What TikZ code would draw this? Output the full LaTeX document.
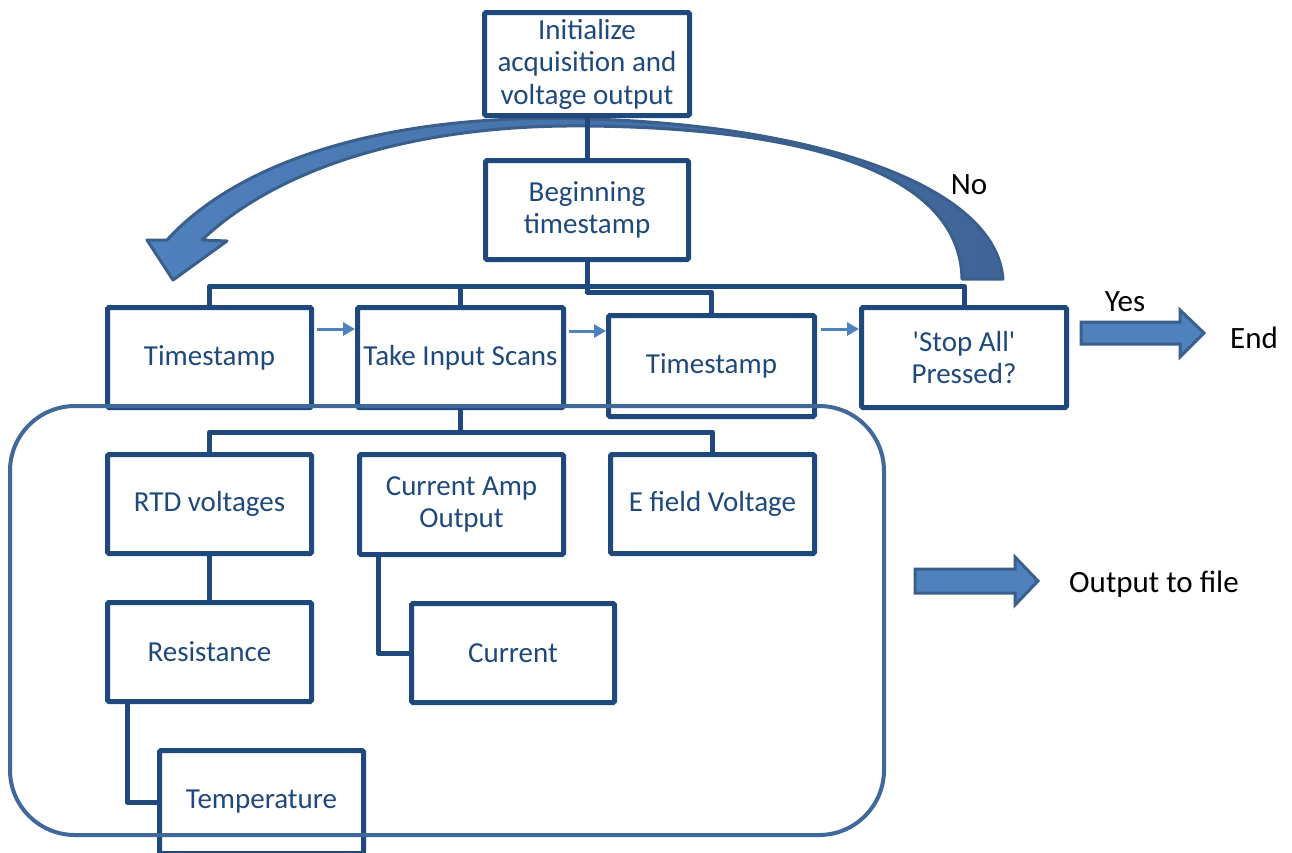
\documentclass[tikz,border=0pt]{standalone}
\usepackage{fontspec}
\setmainfont{Carlito}
\usetikzlibrary{arrows.meta,calc}
\definecolor{navy}{HTML}{1F497D}
\definecolor{accent}{HTML}{4F81BD}
\definecolor{accentdark}{HTML}{3A5F8D}
\definecolor{framec}{HTML}{41689A}
\definecolor{arrowright}{HTML}{3F6497}
\begin{document}
\begin{tikzpicture}[x=1pt,y=-1pt,
  box/.style={draw=navy, line width=5pt, fill=white, rounded corners=1.5pt, inner sep=0pt,
    align=center, text=navy, font=\fontsize{29}{32.5}\selectfont},
  conn/.style={draw=navy, line width=5pt, line join=round},
  smallarrow/.style={draw=accent, line width=3pt, -{Triangle[length=12pt,width=13pt]}},
  lbl/.style={text=black, font=\fontsize{31}{36}\selectfont, inner sep=0pt},
  blockarrow/.style={fill=accent, draw=accentdark, line width=3pt, line join=miter},
  framebox/.style={draw=framec, line width=4pt, rounded corners=65pt}]
\clip (0,0) rectangle (1292,852);
\fill[white] (0,0) rectangle (1292,852);

% curved arrow (No loop)
\path[draw=accentdark, line width=3pt, line join=round, left color=accent, right color=arrowright]
  (962,279) .. controls (960,170) and (800,128) .. (587,126)
            .. controls (400,124) and (270,175) .. (202,240)
  -- (227,241) -- (173,280) -- (147,240) -- (167,240)
  .. controls (240,160) and (390,112) .. (590,119)
  .. controls (800,125) and (995,180) .. (1003,279)
  -- cycle;

% boxes
\node[box, minimum width=205pt, minimum height=103pt] (init) at (587,64) {Initialize\\acquisition and\\voltage output};
\node[box, minimum width=203pt, minimum height=99pt] (begin) at (587,210) {Beginning\\timestamp};
\node[box, minimum width=204pt, minimum height=100pt] (ts1) at (209.5,357.5) {Timestamp};
\node[box, minimum width=206pt, minimum height=100pt] (take) at (460.5,357.5) {Take Input Scans};
\node[box, minimum width=206pt, minimum height=101pt] (ts2) at (711.5,366) {Timestamp};
\node[box, minimum width=205pt, minimum height=100pt] (stop) at (964,357.5) {\textquotesingle Stop All\textquotesingle\\Pressed?};
\node[box, minimum width=204pt, minimum height=99pt] (rtd) at (209.5,504) {RTD voltages};
\node[box, minimum width=204pt, minimum height=100pt] (amp) at (461.5,504.5) {Current Amp\\Output};
\node[box, minimum width=204pt, minimum height=99pt] (efield) at (712.5,504) {E field Voltage};
\node[box, minimum width=204pt, minimum height=99pt] (res) at (209.5,652) {Resistance};
\node[box, minimum width=203pt, minimum height=99pt] (cur) at (513,653) {Current};
\node[box, minimum width=204pt, minimum height=103pt] (temp) at (261.5,802) {Temperature};

% connectors
\draw[conn] (init.south) -- (begin.north);
\draw[conn] (ts1.north) -- ++(0,-19) -| (stop.north);
\draw[conn] (take.north) -- ++(0,-19);
\draw[conn] (begin.south) -- ++(0,30) -| (ts2.north);
\draw[conn] (rtd.north) -- ++(0,-20) -| (efield.north);
\draw[conn] (take.south) -- ($(take.south)+(0,22)$);
\draw[conn] (rtd.south) -- (res.north);
\draw[conn] ($(amp.south west)+(21,0)$) |- (cur.west);
\draw[conn] ($(res.south west)+(22,0)$) |- (temp.west);

% small flow arrows
\draw[smallarrow] ($(ts1.east |- 0,329)+(3,0)$) -- (take.west |- 0,329);
\draw[smallarrow] ($(take.east |- 0,331)+(3,0)$) -- (ts2.west |- 0,331);
\draw[smallarrow] ($(ts2.east |- 0,329)+(4,0)$) -- (stop.west |- 0,329);

% frame around the scan group
\draw[framebox] (10,406) rectangle (884,835);

% labels
\node[lbl] (no) at (969,185) {No};
\node[lbl] (yes) at (1125,302) {Yes};
\node[lbl, anchor=west] (end) at (1230,338) {End};
\node[lbl, anchor=west] (out) at (1069,584) {Output to file};

% block arrows
\draw[blockarrow] (1081,322) -- (1180,322) -- (1180,310) -- (1204,333) -- (1180,357) -- (1180,344) -- (1081,344) -- cycle;
\draw[blockarrow] (915,569) -- (1015,569) -- (1015,557) -- (1038,581) -- (1015,605) -- (1015,593) -- (915,593) -- cycle;
\end{tikzpicture}
\end{document}
